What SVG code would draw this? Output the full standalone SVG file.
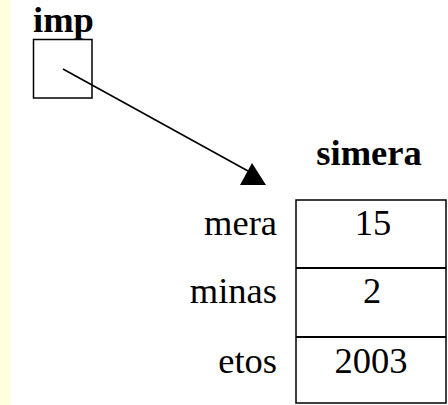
<svg xmlns="http://www.w3.org/2000/svg" width="448" height="405" viewBox="0 0 448 405">
<style>
.t{font-family:"Liberation Serif","Times New Roman",serif;font-size:36.5px;fill:#000}
.b{font-weight:bold}
.box{fill:none;stroke:#000;stroke-width:1.5}
</style>
<rect x="0" y="0" width="448" height="405" fill="#fff"/>
<rect x="0" y="0" width="11" height="405" fill="#FFFFE0"/>
<g id="imp">
<text class="t b" x="33" y="32">imp</text>
<rect class="box" x="33.5" y="39.5" width="58.5" height="58.5"/>
</g>
<g id="connectors">
<line x1="63" y1="69" x2="248" y2="171" stroke="#000" stroke-width="1.6"/>
<polygon points="252,163 240,185 266,185" fill="#000"/>
</g>
<g id="simera">
<text class="t b" x="369" y="165" text-anchor="middle">simera</text>
<rect class="box" x="296" y="200" width="150" height="203" stroke-width="2"/>
<line x1="296" y1="268" x2="446" y2="268" stroke="#000" stroke-width="2"/>
<line x1="296" y1="337" x2="446" y2="337" stroke="#000" stroke-width="2"/>
<text class="t" x="277" y="235" text-anchor="end">mera</text>
<text class="t" x="277" y="303" text-anchor="end">minas</text>
<text class="t" x="277" y="373" text-anchor="end">etos</text>
<text class="t" x="373" y="235" text-anchor="middle">15</text>
<text class="t" x="372" y="303" text-anchor="middle">2</text>
<text class="t" x="371" y="373" text-anchor="middle">2003</text>
</g>
</svg>
